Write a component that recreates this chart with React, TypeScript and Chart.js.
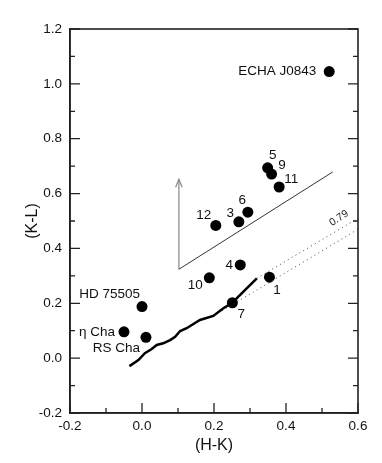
import React, { useEffect, useRef } from "react";
import { Chart, registerables } from "chart.js";

Chart.register(...registerables);

// ---- data ----
const starNames = [
  "ECHA J0843", "5", "9", "11", "6", "3", "12", "4", "10", "1", "7",
  "HD 75505", "η Cha", "RS Cha",
];
const starHK = [0.52, 0.349, 0.36, 0.381, 0.294, 0.269, 0.205, 0.273, 0.187, 0.354, 0.251, 0.0, -0.05, 0.011];
const starKL = [1.045, 0.694, 0.671, 0.624, 0.532, 0.497, 0.484, 0.34, 0.293, 0.295, 0.202, 0.188, 0.096, 0.076];

// label offsets in pixels and alignment
const labelDX = [-13, 5, 10.5, 5, -5.5, -8.5, -12, -11, -14, 7.5, 9, -2, -9, -6];
const labelDY = [0, -12.5, -9, -8, -11.5, -8.5, -10.5, 0, 7.5, 13.5, 11.5, -12.5, 0, 11];
const labelAlign = ["right", "center", "center", "left", "center", "center", "center", "center", "center", "center", "center", "right", "right", "right"];

// locus (thick line)
const locusHK = [-0.035, -0.01, 0.008, 0.027, 0.041, 0.059, 0.078, 0.092, 0.106, 0.124, 0.161, 0.198, 0.226, 0.251, 0.281, 0.319];
const locusKL = [-0.029, -0.007, 0.018, 0.033, 0.048, 0.054, 0.066, 0.078, 0.099, 0.109, 0.139, 0.154, 0.182, 0.202, 0.242, 0.291];

// thin boundary line
const boundHK = [0.1025, 0.53];
const boundKL = [0.324, 0.679];

// arrow
const arrowHK = [0.1025, 0.1025];
const arrowKL = [0.324, 0.652];

// dotted lines
const dotUpperHK = [0.319, 0.6];
const dotUpperKL = [0.291, 0.51];
const dotLowerHK = [0.222, 0.6];
const dotLowerKL = [0.172, 0.47];

const slopeLabel = "0.79";
const slopeLabelHK = 0.547;
const slopeLabelKL = 0.51;

const xTitle = "(H-K)";
const yTitle = "(K-L)";
const xMin = -0.2, xMax = 0.6, yMin = -0.2, yMax = 1.2;

const FONT = "'Liberation Sans', Arial, Helvetica, sans-serif";
const AXIS = "#222";

const pts = (xs: number[], ys: number[]) => xs.map((x, i) => ({ x, y: ys[i] }));

const fmt = (v: number) => (Math.abs(v) < 1e-9 ? "0.0" : Number(v).toFixed(1));

const framePlugin = {
  id: "frameTicks",
  afterDraw(chart: any) {
    const ctx = chart.ctx;
    const xs = chart.scales.x, ys = chart.scales.y;
    const a = chart.chartArea;
    const L = a.left, R = a.right, T = a.top, B = a.bottom;
    ctx.save();
    ctx.setLineDash([]);
    ctx.strokeStyle = AXIS;
    ctx.lineWidth = 1.6;
    ctx.strokeRect(L, T, R - L, B - T);
    ctx.lineWidth = 1.3;
    ctx.beginPath();
    for (let i = 0; i <= 14; i++) {
      const py = ys.getPixelForValue(yMin + i * 0.1);
      const len = i % 2 === 0 ? 10 : 5;
      ctx.moveTo(L, py); ctx.lineTo(L + len, py);
      ctx.moveTo(R, py); ctx.lineTo(R - len, py);
    }
    for (let i = 0; i <= 8; i++) {
      const px = xs.getPixelForValue(xMin + i * 0.1);
      const len = i % 2 === 0 ? 10 : 5;
      ctx.moveTo(px, B); ctx.lineTo(px, B - len);
    }
    ctx.stroke();

    // arrowhead
    const tx = xs.getPixelForValue(arrowHK[1]);
    const ty = ys.getPixelForValue(arrowKL[1]);
    ctx.strokeStyle = "#888";
    ctx.lineWidth = 1.2;
    ctx.beginPath();
    ctx.moveTo(tx - 3.3, ty + 8);
    ctx.lineTo(tx, ty);
    ctx.lineTo(tx + 3.3, ty + 8);
    ctx.stroke();

    // star labels
    ctx.fillStyle = "#111";
    ctx.font = `13.5px ${FONT}`;
    ctx.textBaseline = "middle";
    starNames.forEach((n, i) => {
      const px = xs.getPixelForValue(starHK[i]);
      const py = ys.getPixelForValue(starKL[i]);
      ctx.textAlign = labelAlign[i];
      ctx.fillText(n, px + labelDX[i], py + labelDY[i]);
    });

    // slope label
    ctx.save();
    ctx.translate(xs.getPixelForValue(slopeLabelHK), ys.getPixelForValue(slopeLabelKL));
    ctx.rotate(-33 * Math.PI / 180);
    ctx.font = `10.5px ${FONT}`;
    ctx.textAlign = "center";
    ctx.fillStyle = "#222";
    ctx.fillText(slopeLabel, 0, 0);
    ctx.restore();
    ctx.restore();
  },
};

export default function App() {
  const ref = useRef<HTMLCanvasElement>(null);
  useEffect(() => {
    if (!ref.current) return;
    const chart = new Chart(ref.current, {
      type: "scatter",
      data: {
        datasets: [
          {
            label: "locus",
            data: pts(locusHK, locusKL),
            showLine: true,
            borderColor: "#000",
            borderWidth: 2.5,
            pointRadius: 0,
            tension: 0,
          },
          {
            label: "bound",
            data: pts(boundHK, boundKL),
            showLine: true,
            borderColor: "#333",
            borderWidth: 1,
            pointRadius: 0,
          },
          {
            label: "arrow",
            data: pts(arrowHK, arrowKL),
            showLine: true,
            borderColor: "#888",
            borderWidth: 1.2,
            pointRadius: 0,
          },
          {
            label: "dotU",
            data: pts(dotUpperHK, dotUpperKL),
            showLine: true,
            borderColor: "#444",
            borderWidth: 1,
            borderDash: [1, 3.5],
            pointRadius: 0,
          },
          {
            label: "dotL",
            data: pts(dotLowerHK, dotLowerKL),
            showLine: true,
            borderColor: "#444",
            borderWidth: 1,
            borderDash: [1, 3.5],
            pointRadius: 0,
          },
          {
            label: "stars",
            data: pts(starHK, starKL),
            backgroundColor: "#000",
            borderColor: "#000",
            pointRadius: 5.5,
            borderWidth: 0,
          },
        ],
      },
      options: {
        responsive: false,
        animation: false,
        events: [],
        layout: { padding: { left: 0, right: 24, top: 29, bottom: 0 } },
        plugins: { legend: { display: false }, tooltip: { enabled: false } },
        scales: {
          x: {
            type: "linear",
            min: xMin,
            max: xMax,
            grid: { display: false, drawTicks: false },
            border: { display: true, color: AXIS, width: 1.6 },
            ticks: {
              stepSize: 0.2,
              padding: 5,
              color: "#111",
              font: { family: FONT, size: 13.5 },
              callback: (v: any) => fmt(v),
            },
            title: {
              display: true,
              text: xTitle,
              color: "#111",
              font: { family: FONT, size: 16 },
              padding: { top: 0, bottom: 8 },
            },
            afterFit: (s: any) => { s.height = 50; },
          },
          y: {
            type: "linear",
            min: yMin,
            max: yMax,
            grid: { display: false, drawTicks: false },
            border: { display: true, color: AXIS, width: 1.6 },
            ticks: {
              stepSize: 0.2,
              padding: 8,
              color: "#111",
              font: { family: FONT, size: 13.5 },
              callback: (v: any) => fmt(v),
            },
            title: {
              display: true,
              text: yTitle,
              color: "#111",
              font: { family: FONT, size: 16 },
              padding: { top: 23, bottom: 0 },
            },
            afterFit: (s: any) => { s.width = 70; },
          },
        },
      },
      plugins: [framePlugin],
    } as any);
    return () => chart.destroy();
  }, []);
  return (
    <div style={{ position: "absolute", left: 0, top: 0, width: 382, height: 463, background: "#fff" }}>
      <canvas ref={ref} width={382} height={463} style={{ display: "block" }} />
    </div>
  );
}
